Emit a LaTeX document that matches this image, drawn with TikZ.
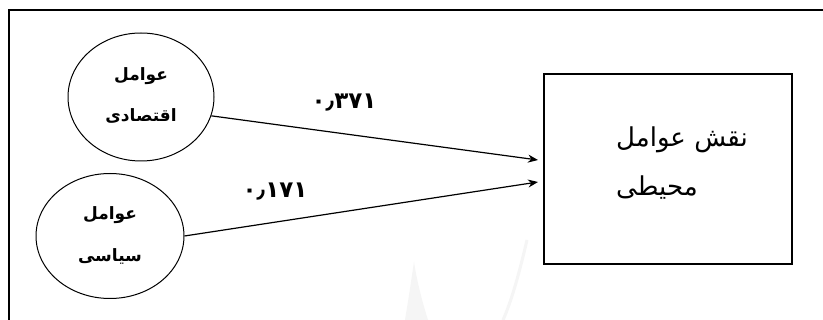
\documentclass[tikz,border=0pt]{standalone}
\usepackage{fontspec}
\newfontfamily\arabicfont[Script=Arabic]{DejaVu Sans}
\TeXXeTstate=1
\usetikzlibrary{arrows.meta,shapes.geometric}
\tikzset{
  factor/.style={draw, line width=1pt, ellipse, inner sep=0pt},
  conn/.style={line width=1.2pt, -{Stealth[length=10pt,width=8pt]}},
  coef/.style={font=\arabicfont\bfseries\fontsize{23}{23}\selectfont},
  ftext/.style={font=\arabicfont\bfseries\fontsize{17}{17}\selectfont, inner sep=0pt},
  btext/.style={font=\arabicfont\fontsize{26}{26}\selectfont, inner sep=0pt, anchor=west},
}
\begin{document}
\begin{tikzpicture}[x=1pt,y=-1pt]
\useasboundingbox (0,0) rectangle (823,320);
\fill[white] (0,0) rectangle (823,320);
% faint watermark
\fill[gray!8] (405,320) .. controls (410,290) and (412,275) .. (414,262) .. controls (416,275) and (420,295) .. (428,320) -- cycle;
\draw[gray!8, line width=3pt] (527,240) .. controls (520,270) and (512,300) .. (503,320);
% outer frame
\draw[line width=1.8pt] (8.8,320) -- (8.8,9.8) -- (823,9.8);
% ellipses
\node[factor, minimum width=146pt, minimum height=128pt] (econ) at (141,97) {};
\node[factor, minimum width=148pt, minimum height=125pt] (pol) at (110,236) {};
\node[ftext] (econ1) at (141,76) {\beginR عوامل\endR};
\node[ftext] (econ2) at (141,116) {\beginR اقتصادی\endR};
\node[ftext] (pol1) at (110,215) {\beginR عوامل\endR};
\node[ftext] (pol2) at (110,256) {\beginR سیاسی\endR};
% target box
\node[draw, line width=1.3pt, minimum width=248pt, minimum height=190pt, inner sep=0pt] (env) at (668,169) {};
\node[btext] (env1) at (616,140) {\beginR نقش عوامل\endR};
\node[btext] (env2) at (616,188) {\beginR محیطی\endR};
% connectors
\coordinate (t1) at (538,160);
\coordinate (t2) at (538,182);
\draw[conn] (econ.-15) -- (t1);
\draw[conn] (pol.east) -- (t2);
% coefficients
\node[coef] (c1) at (344,103) {۰٫۳۷۱};
\node[coef] (c2) at (275,192) {۰٫۱۷۱};
\end{tikzpicture}
\end{document}
